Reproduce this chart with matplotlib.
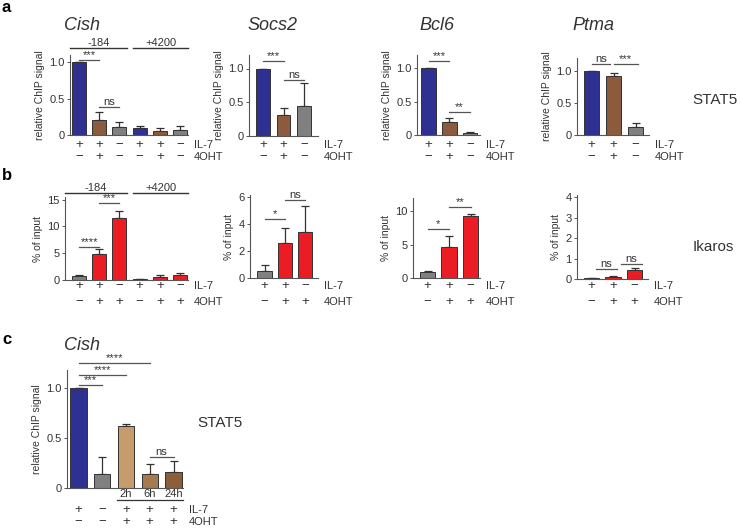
import matplotlib.pyplot as plt
from matplotlib.transforms import blended_transform_factory

plt.rcParams['font.family'] = ['Liberation Sans', 'DejaVu Sans']

W, H = 741, 528

BLUE = '#2e3192'
BROWN = '#8c5a3c'
GRAY = '#808080'
RED = '#ec1c24'
TAN = '#c69c6d'
BROWN2 = '#a57a4f'
BROWN3 = '#8b5e3c'
TXT = '#333333'

# ---- panel a: STAT5 ChIP (relative signal) ----
cish_a = [1.0, 0.20, 0.11, 0.09, 0.05, 0.07]
cish_a_err = [0.0, 0.12, 0.07, 0.03, 0.05, 0.05]
socs2_a = [1.0, 0.31, 0.45]
socs2_a_err = [0.0, 0.10, 0.33]
bcl6_a = [1.0, 0.20, 0.03]
bcl6_a_err = [0.0, 0.05, 0.02]
ptma_a = [1.0, 0.92, 0.12]
ptma_a_err = [0.0, 0.05, 0.07]

# ---- panel b: Ikaros ChIP (% of input) ----
cish_b = [0.8, 4.8, 11.5, 0.2, 0.5, 0.9]
cish_b_err = [0.15, 0.9, 1.4, 0.05, 0.4, 0.5]
socs2_b = [0.55, 2.6, 3.4]
socs2_b_err = [0.4, 1.1, 1.95]
bcl6_b = [0.9, 4.6, 9.3]
bcl6_b_err = [0.1, 1.7, 0.3]
ptma_b = [0.03, 0.10, 0.42]
ptma_b_err = [0.01, 0.03, 0.10]

# ---- panel c: STAT5 ChIP time course ----
cish_c = [1.0, 0.14, 0.62, 0.14, 0.16]
cish_c_err = [0.0, 0.17, 0.02, 0.10, 0.11]
time_labels = ['2h', '6h', '24h']

il7_a6 = ['+', '+', '−', '+', '+', '−']
ohT_a6 = ['−', '+', '−', '−', '+', '−']
il7_3 = ['+', '+', '−']
ohT_a3 = ['−', '+', '−']
ohT_b6 = ['−', '+', '+', '−', '+', '+']
ohT_b3 = ['−', '+', '+']
il7_c = ['+', '−', '+', '+', '+']
ohT_c = ['−', '−', '+', '+', '+']

fig = plt.figure(figsize=(W / 100, H / 100), dpi=100)


def fy(px):
    return 1 - px / H


def chart(l, r, t, b, c0, step, vals, errs, colors, ymax, ticks, ticklabels,
          ylabel, il7, ohT, rows, sigs, bw=0.7):
    ax = fig.add_axes([l / W, fy(b), (r - l) / W, (b - t) / H])
    x = list(range(len(vals)))
    ax.bar(x, vals, width=bw, color=colors, edgecolor='#333333', linewidth=0.7, zorder=2)
    ax.errorbar(x, vals, yerr=[[0] * len(vals), errs], fmt='none', ecolor='#333333',
                elinewidth=0.9, capsize=3, capthick=0.9, zorder=1)
    ax.set_xlim((l - c0) / step, (r - c0) / step)
    ax.set_ylim(0, ymax)
    ax.set_xticks([])
    ax.set_yticks(ticks)
    ax.set_yticklabels(ticklabels)
    ax.tick_params(axis='y', length=2, width=0.7, colors='#555555', labelsize=8,
                   labelcolor=TXT, pad=2)
    for s in ('top', 'right'):
        ax.spines[s].set_visible(False)
    for s in ('left', 'bottom'):
        ax.spines[s].set_color('#555555')
        ax.spines[s].set_linewidth(0.8)
    ax.set_ylabel(ylabel, fontsize=7.5, color=TXT, labelpad=3)
    tr = blended_transform_factory(ax.transData, fig.transFigure)
    for i in x:
        ax.text(i, fy(rows[0]), il7[i], transform=tr, ha='center', va='center',
                fontsize=9.5, color=TXT)
        ax.text(i, fy(rows[1]), ohT[i], transform=tr, ha='center', va='center',
                fontsize=9.5, color=TXT)
    fig.text((r + 6) / W, fy(rows[0]), 'IL-7', ha='left', va='center', fontsize=8, color=TXT)
    fig.text((r + 6) / W, fy(rows[1]), '4OHT', ha='left', va='center', fontsize=8, color=TXT)
    for i, j, y, s in sigs:
        ax.plot([i, j], [y, y], color='#555555', lw=0.9, clip_on=False)
        ax.text((i + j) / 2, y, s, ha='center', va='bottom', fontsize=8, color=TXT,
                clip_on=False)
    return ax


def group_lines(ax, y, spans):
    for x0, x1, s in spans:
        ax.plot([x0, x1], [y, y], color='#333333', lw=1.0, clip_on=False)
        ax.text((x0 + x1) / 2, y, s, ha='center', va='bottom', fontsize=8, color=TXT)


ticks_a = [0, 0.5, 1.0]
labels_a = ['0', '0.5', '1.0']
rows_a = (145, 157)
rows_b = (286, 302)
rows_c = (510, 522)

# panel a
ax = chart(70, 188, 55, 135, 79, 20.2, cish_a, cish_a_err,
           [BLUE, BROWN, GRAY, BLUE, BROWN, GRAY], 1.1, ticks_a, labels_a,
           'relative ChIP signal', il7_a6, ohT_a6, rows_a,
           [(0, 1, 1.03, '***'), (1, 2, 0.38, 'ns')])
group_lines(ax, 1.2, [(-0.45, 2.38, '-184'), (2.67, 5.4, '+4200')])
chart(249, 318, 55, 136, 263, 20.5, socs2_a, socs2_a_err, [BLUE, BROWN, GRAY], 1.2,
      ticks_a, labels_a, 'relative ChIP signal', il7_3, ohT_a3, rows_a,
      [(0, 1, 1.11, '***'), (1, 2, 0.83, 'ns')], bw=0.68)
chart(417, 480, 55, 135, 428.5, 20.75, bcl6_a, bcl6_a_err, [BLUE, BROWN, GRAY], 1.2,
      ticks_a, labels_a, 'relative ChIP signal', il7_3, ohT_a3, rows_a,
      [(0, 1, 1.11, '***'), (1, 2, 0.35, '**')])
chart(577, 649, 58, 135, 591.5, 22, ptma_a, ptma_a_err, [BLUE, BROWN, GRAY], 1.2,
      ticks_a, labels_a, 'relative ChIP signal', il7_3, ohT_a3, rows_a,
      [(0, 0.85, 1.11, 'ns'), (1.0, 2.1, 1.11, '***')], bw=0.68)

# panel b
ax = chart(65, 188, 197, 280, 79, 20.2, cish_b, cish_b_err,
           [GRAY, RED, RED, GRAY, RED, RED], 15.5, [0, 5, 10, 15], ['0', '5', '10', '15'],
           '% of input', il7_a6, ohT_b6, rows_b,
           [(0, 1, 6.2, '****'), (1, 2, 14.4, '***')])
group_lines(ax, 16.3, [(-0.69, 2.38, '-184'), (2.67, 5.4, '+4200')])
chart(250, 318, 195, 278, 264.5, 20.25, socs2_b, socs2_b_err, [GRAY, RED, RED], 6.15,
      [0, 2, 4, 6], ['0', '2', '4', '6'], '% of input', il7_3, ohT_b3, rows_b,
      [(0, 1, 4.4, '*'), (1, 2, 5.8, 'ns')])
chart(413, 480, 198, 278, 427.5, 21.5, bcl6_b, bcl6_b_err, [GRAY, RED, RED], 12,
      [0, 5, 10], ['0', '5', '10'], '% of input', il7_3, ohT_b3, rows_b,
      [(0, 1, 7.3, '*'), (1, 2, 10.6, '**')])
chart(577, 648, 195, 279, 591.5, 21.5, ptma_b, ptma_b_err, [GRAY, RED, RED], 4.1,
      [0, 1, 2, 3, 4], ['0', '1', '2', '3', '4'], '% of input', il7_3, ohT_b3, rows_b,
      [(0.2, 1.2, 0.5, 'ns'), (1.35, 2.35, 0.73, 'ns')])

# panel c
ax = chart(67, 183, 370, 488, 78.5, 23.75, cish_c, cish_c_err,
           [BLUE, GRAY, TAN, BROWN2, BROWN3], 1.18, ticks_a, labels_a,
           'relative ChIP signal', il7_c, ohT_c, rows_c,
           [(0, 1, 1.03, '***'), (0, 2, 1.13, '****'), (0, 3, 1.25, '****'),
            (3, 4, 0.31, 'ns')], bw=0.68)
tr = blended_transform_factory(ax.transData, fig.transFigure)
for k, s in enumerate(time_labels):
    ax.text(k + 2, fy(494), s, transform=tr, ha='center', va='center', fontsize=8, color=TXT)
ax.plot([1.6, 4.4], [fy(500), fy(500)], transform=tr, color='#333333', lw=0.9, clip_on=False)

# titles and labels
for x, y, s in [(82, 25, 'Cish'), (272, 25, 'Socs2'), (437, 25, 'Bcl6'),
                (593, 25, 'Ptma'), (82, 345, 'Cish')]:
    fig.text(x / W, fy(y), s, ha='center', va='center', fontsize=13, style='italic', color=TXT)
for x, y, s in [(692, 100, 'STAT5'), (693, 247, 'Ikaros'), (197, 423, 'STAT5')]:
    fig.text(x / W, fy(y), s, ha='left', va='center', fontsize=11, color=TXT)
for y, s in [(8, 'a'), (176, 'b'), (339, 'c')]:
    fig.text(2 / W, fy(y), s, ha='left', va='center', fontsize=12, fontweight='bold')

fig.savefig('out.png', dpi=100)
